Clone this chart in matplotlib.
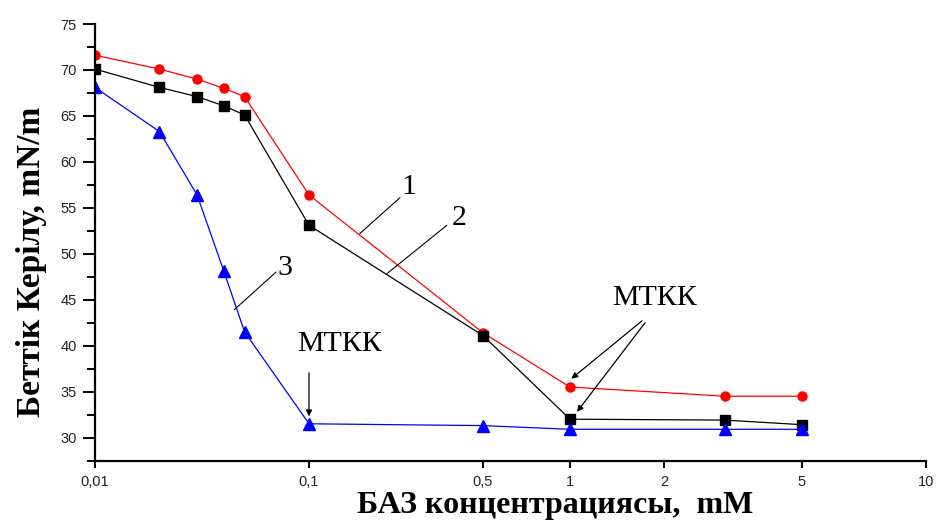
import numpy as np
import matplotlib
matplotlib.use("Agg")
import matplotlib.pyplot as plt
from matplotlib.ticker import FixedLocator, MultipleLocator, NullLocator

# concentration, mM
conc = [0.01, 0.02, 0.03, 0.04, 0.05, 0.1, 0.5, 1, 3, 5]

# surface tension, mN/m
tension_1 = [71.6, 70.1, 69.0, 68.0, 67.1, 56.4, 41.4, 35.5, 34.5, 34.5]
tension_2 = [70.1, 68.1, 67.1, 66.1, 65.1, 53.1, 41.1, 32.0, 31.9, 31.4]
tension_3 = [68.1, 63.3, 56.4, 48.1, 41.5, 31.5, 31.3, 30.9, 30.9, 30.9]

x_ticks = [0.01, 0.1, 0.5, 1, 2, 5, 10]
x_tick_labels = ["0,01", "0,1", "0,5", "1", "2", "5", "10"]

# the x axis is log-like but the tick spacing is uneven, so each tick gets its own spot
tick_spots = np.array([0, 214, 388, 475, 569, 707, 831], dtype=float)
tick_logs = np.log10(x_ticks)


def forward(x):
    x = np.clip(np.asarray(x, dtype=float), 1e-6, None)
    return np.interp(np.log10(x), tick_logs, tick_spots,
                     left=-1e3, right=2e3)


def inverse(p):
    return 10 ** np.interp(np.asarray(p, dtype=float), tick_spots, tick_logs)


def leader(ax, start, end, arrow=False):
    style = dict(arrowstyle="-|>", color="black", lw=0.9,
                 mutation_scale=9, shrinkA=0, shrinkB=0) if arrow else \
        dict(arrowstyle="-", color="black", lw=0.8, shrinkA=0, shrinkB=0)
    ax.annotate("", xy=end, xytext=start, arrowprops=style)


def main():
    fig = plt.figure(figsize=(9.42, 5.21), dpi=100)
    ax = fig.add_axes([95 / 942, 1 - 461 / 521, 831 / 942, 437 / 521])

    ax.set_xscale("function", functions=(forward, inverse))
    ax.set_xlim(0.01, 10)
    ax.set_ylim(27.45, 75)

    ax.plot(conc, tension_1, color="#ff0000", lw=0.9, marker="o", ms=6.5)
    ax.plot(conc, tension_2, color="black", lw=0.9, marker="s", ms=6.5)
    ax.plot(conc, tension_3, color="#0000ff", lw=0.9, marker="^", ms=8.5)

    for side in ("top", "right"):
        ax.spines[side].set_visible(False)
    for side in ("left", "bottom"):
        ax.spines[side].set_linewidth(1.6)

    ax.xaxis.set_major_locator(FixedLocator(x_ticks))
    ax.xaxis.set_minor_locator(NullLocator())
    ax.set_xticklabels(x_tick_labels)
    ax.yaxis.set_major_locator(MultipleLocator(5))
    ax.yaxis.set_minor_locator(MultipleLocator(2.5))

    ax.tick_params(axis="y", which="major", length=9, width=1.4, pad=4)
    ax.tick_params(axis="y", which="minor", length=6, width=1.4)
    ax.tick_params(axis="x", which="major", length=5, width=1.4, pad=5)
    for lab in ax.get_xticklabels() + ax.get_yticklabels():
        lab.set_fontfamily("Liberation Sans")
        lab.set_fontsize(10.5)
        lab.set_color("#222222")

    label_font = dict(family="Liberation Serif", weight="bold")
    ax.set_ylabel("Беттік Керілу, mN/m", va="center", size=24, **label_font)
    ax.yaxis.set_label_coords(-0.077, 0.455)
    ax.set_xlabel("БАЗ концентрациясы,  mM", va="center", size=23, **label_font)
    ax.xaxis.set_label_coords(0.554, -0.101)

    note_font = dict(family="Liberation Serif", size=21.5,
                     ha="center", va="center")

    # curve numbers with leader lines
    ax.text(0.252, 57.3, "1", **note_font)
    leader(ax, (0.232, 56.1), (0.16, 52.2))
    ax.text(0.40, 53.9, "2", **note_font)
    leader(ax, (0.358, 53.1), (0.206, 47.85))
    ax.text(0.077, 48.5, "3", **note_font)
    leader(ax, (0.0701, 48.0), (0.0447, 43.9))

    # critical micelle concentration marks
    ax.text(0.133, 40.2, "МТКК", **note_font)
    leader(ax, (0.1, 37.05), (0.1, 32.3), arrow=True)
    ax.text(1.87, 45.2, "МТКК", **note_font)
    leader(ax, (1.70, 42.7), (1.01, 36.4), arrow=True)
    leader(ax, (1.74, 42.5), (1.053, 32.8), arrow=True)

    fig.savefig("out.png", dpi=100)


main()
